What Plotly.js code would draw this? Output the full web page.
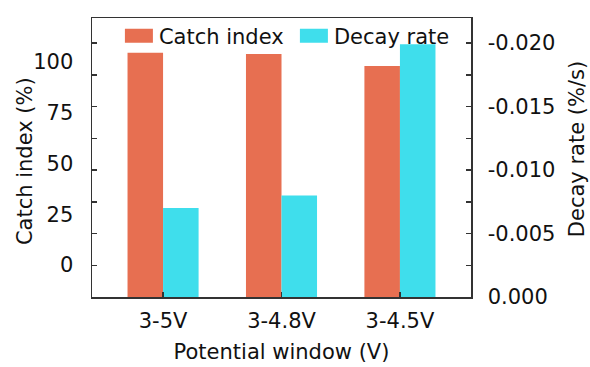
<!DOCTYPE html>
<html>
<head>
<meta charset="utf-8">
<script src="https://cdn.plot.ly/plotly-3.0.1.min.js"></script>
<style>html,body{margin:0;padding:0;background:#fff;}#chart{width:590px;height:367px;}</style>
</head>
<body>
<div id="chart"></div>
<script>
const categories = ['3-5V', '3-4.8V', '3-4.5V'];
const catchIndex = [104.4, 103.8, 97.9];
const decayRate = [-0.0070, -0.0080, -0.0199];
const catchTicks = [0, 25, 50, 75, 100];
const decayTicks = [-0.020, -0.015, -0.010, -0.005, 0.000];
const decayTickText = ['-0.020', '-0.015', '-0.010', '-0.005', '0.000'];
const decayMinorTicks = [-0.0175, -0.0125, -0.0075, -0.0025];

const catchRange = [-15.74, 121.5];
const decayRange = [0, -0.02197];
const base = catchRange[0];
// left-side tick marks sit at the same heights as the right-axis ticks
const toCatch = d => catchRange[0] + (d - decayRange[0]) / (decayRange[1] - decayRange[0]) * (catchRange[1] - catchRange[0]);
const leftMarks = decayTicks.filter(d => d !== 0).concat(decayMinorTicks).map(toCatch);

const FONT = 'DejaVu Sans, Arial, sans-serif';
const LINE = '#333333';
const TXT = '#111111';

const traces = [
  {
    type: 'bar', name: 'Catch index', x: categories,
    y: catchIndex.map(v => v - base), base: base,
    width: 0.3, offset: -0.3,
    marker: {color: '#E76F51'}, yaxis: 'y', hoverinfo: 'skip'
  },
  {
    type: 'bar', name: 'Decay rate', x: categories, y: decayRate,
    width: 0.3, offset: 0,
    marker: {color: '#3FDEEC'}, yaxis: 'y2', hoverinfo: 'skip'
  }
];

const layout = {
  width: 590, height: 367,
  margin: {l: 92, r: 119, t: 18, b: 70},
  paper_bgcolor: '#ffffff', plot_bgcolor: '#ffffff',
  font: {family: FONT, size: 21, color: TXT},
  showlegend: true,
  legend: {
    orientation: 'h', x: 0.071, xanchor: 'left', y: 0.935, yanchor: 'middle',
    bgcolor: 'rgba(0,0,0,0)', font: {family: FONT, size: 21, color: TXT},
    entrywidth: 130, traceorder: 'normal'
  },
  xaxis: {
    type: 'category', range: [-0.6, 2.6],
    showline: true, linecolor: LINE, linewidth: 1.5, mirror: true,
    ticks: 'inside', ticklen: 5, tickcolor: LINE, tickwidth: 1.5,
    showgrid: false, zeroline: false, ticklabelstandoff: 4,
    tickfont: {family: FONT, size: 21, color: TXT},
    title: {text: 'Potential window (V)', font: {family: FONT, size: 21, color: TXT}, standoff: 12}
  },
  yaxis: {
    range: catchRange, tickmode: 'array', tickvals: catchTicks,
    ticks: 'inside', ticklen: 0, tickcolor: LINE,
    showline: true, linecolor: LINE, linewidth: 1.5,
    showgrid: false, zeroline: false, ticklabelstandoff: 13,
    tickfont: {family: FONT, size: 21, color: TXT},
    minor: {tickmode: 'array', tickvals: leftMarks, ticks: 'inside', ticklen: 5, tickcolor: LINE, tickwidth: 1.5, showgrid: false}
  },
  yaxis2: {
    overlaying: 'y', side: 'right', range: decayRange,
    tickmode: 'array', tickvals: decayTicks, ticktext: decayTickText,
    ticks: 'inside', ticklen: 5, tickcolor: LINE, tickwidth: 1.5,
    showline: true, linecolor: LINE, linewidth: 1.5,
    showgrid: false, zeroline: false, ticklabelstandoff: 11,
    tickfont: {family: FONT, size: 21, color: TXT},
    minor: {tickmode: 'array', tickvals: decayMinorTicks, ticks: 'inside', ticklen: 5, tickcolor: LINE, tickwidth: 1.5, showgrid: false}
  },
  annotations: [
    {text: 'Catch index (%)', xref: 'paper', yref: 'paper', x: -0.1768, y: 0.487,
     xanchor: 'center', yanchor: 'middle', textangle: -90, showarrow: false,
     font: {family: FONT, size: 21, color: TXT}},
    {text: 'Decay rate (%/s)', xref: 'paper', yref: 'paper', x: 1.2797, y: 0.530,
     xanchor: 'center', yanchor: 'middle', textangle: -90, showarrow: false,
     font: {family: FONT, size: 21, color: TXT}}
  ]
};

Plotly.newPlot('chart', traces, layout, {displayModeBar: false, staticPlot: true}).then(gd => {
  // widen legend swatches to the reference's wide rectangles
  gd.querySelectorAll('.legend .legendpoints path').forEach(p => {
    p.setAttribute('d', 'M14,7H-14V-7H14Z');
  });
});
</script>
</body>
</html>
